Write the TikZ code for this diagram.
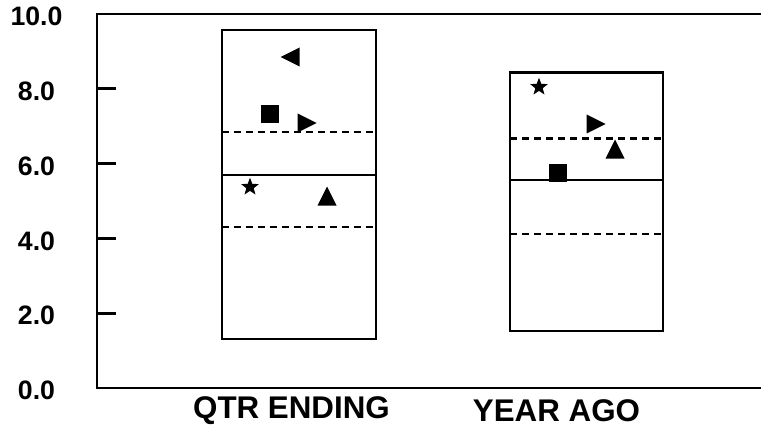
\documentclass[tikz,border=0pt]{standalone}
\usepackage{fontspec}
\setmainfont{Liberation Sans}
\usetikzlibrary{shapes.geometric}
\tikzset{
  ax/.style={line width=2pt, line join=miter},
  boxline/.style={line width=2pt},
  dashline/.style={line width=2pt, dash pattern=on 5.5pt off 3.5pt},
  ylab/.style={font=\fontsize{20}{20}\selectfont\bfseries, anchor=center, inner sep=0pt},
  xlab/.style={font=\fontsize{23.5}{23.5}\selectfont\bfseries, anchor=center, inner sep=0pt},
  sqmark/.style={fill=black, draw=none, minimum size=13.5pt, inner sep=0pt},
  starmark/.style={star, star points=5, star point ratio=2.4, fill=black, draw=none, minimum size=14pt, inner sep=0pt},
  pics/uptri/.style={code={\fill (0,-9.5) -- (9.5,9.5) -- (-9.5,9.5) -- cycle;}},
  pics/lefttri/.style={code={\fill (-9.5,0) -- (9.5,-9.5) -- (9.5,9.5) -- cycle;}},
  pics/righttri/.style={code={\fill (9.5,0) -- (-9.5,-9.5) -- (-9.5,9.5) -- cycle;}},
}
\begin{document}
\begin{tikzpicture}[x=0.75pt,y=-0.75pt]
\useasboundingbox (0,0) rectangle (761,428);
% axes
\coordinate (tr) at (761,14);
\coordinate (tl) at (97,14);
\coordinate (bl) at (97,388);
\coordinate (br) at (761,388);
\draw[ax] (tr) -- (tl) -- (bl) -- (br);
% ticks and labels
\foreach \v/\t in {0/0.0,2/2.0,4/4.0,6/6.0,8/8.0,10/10.0}{
  \pgfmathsetmacro{\yy}{388-37.4*\v}
  \node[ylab] (lab\v) at (36.5,\yy+2.5) {\t};
}
\foreach \v in {2,4,6,8}{
  \pgfmathsetmacro{\yy}{388-37.4*\v}
  \coordinate (ta\v) at (97,\yy);
  \coordinate (tb\v) at (116,\yy);
  \draw[ax] (ta\v) -- (tb\v);
}
% box 1
\draw[boxline] (222,30) rectangle (376,339);
\draw[boxline] (222,175) -- (376,175);
\draw[dashline] (222,132) -- (376,132);
\draw[dashline] (222,227) -- (376,227);
% box 2
\draw[boxline] (510,72.5) rectangle (663,331);
\draw[boxline] (510,180) -- (663,180);
\draw[dashline] (510,138.5) -- (663,138.5);
\draw[dashline] (510,234) -- (663,234);
% markers box 1
\pic at (290,57) {lefttri};
\node[sqmark] (sq1) at (270,114) {};
\pic at (307,123) {righttri};
\node[starmark] (st1) at (250,187) {};
\pic at (327,196) {uptri};
% markers box 2
\node[starmark] (st2) at (539,87) {};
\pic at (596,124) {righttri};
\pic at (615,149) {uptri};
\node[sqmark] (sq2) at (558,173) {};
% category labels
\node[xlab] (q) at (291.5,411) {QTR ENDING};
\node[xlab] (y) at (556.5,411) {YEAR AGO};
\end{tikzpicture}
\end{document}
